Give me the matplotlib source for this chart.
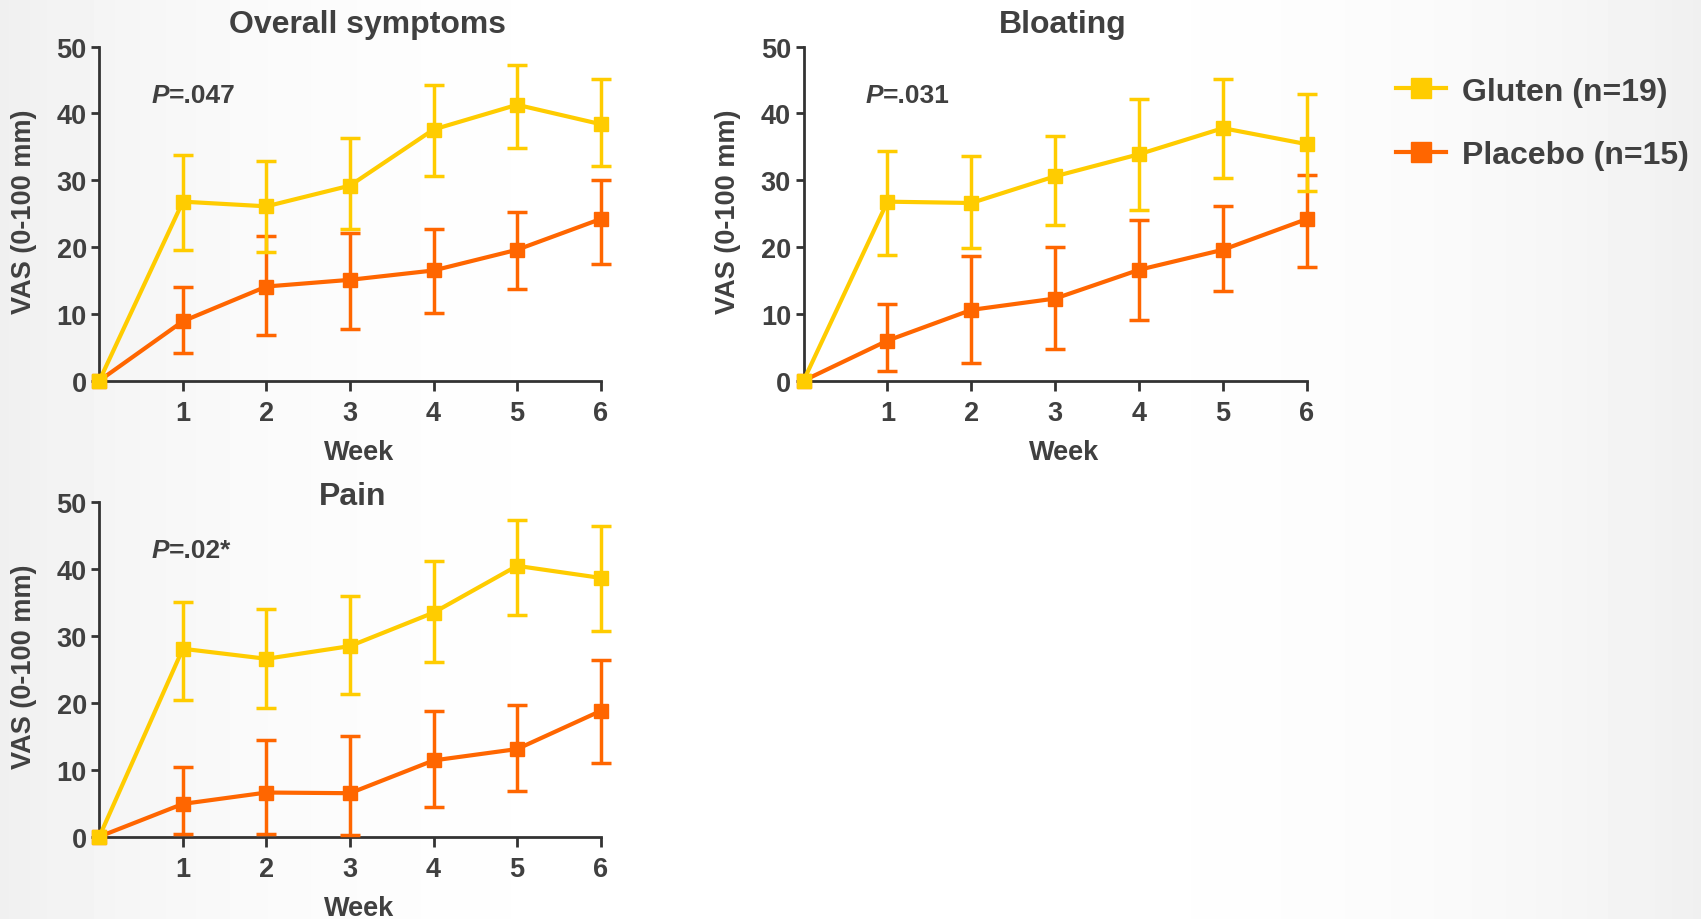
import numpy as np
import matplotlib
matplotlib.use("Agg")
from matplotlib import pyplot as plt
from matplotlib.lines import Line2D

plt.rcParams['font.family'] = ['Liberation Sans', 'DejaVu Sans']
plt.rcParams['font.weight'] = 'bold'

"""Data
"""
weeks = [0, 1, 2, 3, 4, 5, 6]

# overall symptoms
ov_glu = [0, 26.8, 26.1, 29.2, 37.6, 41.3, 38.4]
ov_glu_hi = [0, 33.8, 32.9, 36.3, 44.3, 47.2, 45.1]
ov_glu_lo = [0, 19.6, 19.3, 22.7, 30.6, 34.9, 32.1]
ov_pla = [0, 8.9, 14.1, 15.1, 16.5, 19.6, 24.2]
ov_pla_hi = [0, 14.1, 21.7, 22.1, 22.7, 25.2, 30.1]
ov_pla_lo = [0, 4.1, 6.8, 7.8, 10.1, 13.8, 17.5]

# bloating
bl_glu = [0, 26.8, 26.6, 30.6, 33.9, 37.8, 35.4]
bl_glu_hi = [0, 34.4, 33.7, 36.7, 42.2, 45.2, 42.9]
bl_glu_lo = [0, 18.8, 19.8, 23.3, 25.5, 30.3, 28.4]
bl_pla = [0, 6.0, 10.6, 12.3, 16.6, 19.6, 24.2]
bl_pla_hi = [0, 11.5, 18.6, 20.0, 24.1, 26.2, 30.8]
bl_pla_lo = [0, 1.4, 2.6, 4.7, 9.1, 13.4, 17.0]

# pain
pa_glu = [0, 28.1, 26.6, 28.5, 33.5, 40.5, 38.7]
pa_glu_hi = [0, 35.1, 34.0, 36.0, 41.3, 47.3, 46.4]
pa_glu_lo = [0, 20.4, 19.2, 21.3, 26.1, 33.1, 30.7]
pa_pla = [0, 4.9, 6.6, 6.5, 11.4, 13.1, 18.8]
pa_pla_hi = [0, 10.4, 14.5, 15.0, 18.8, 19.7, 26.4]
pa_pla_lo = [0, 0.4, 0.4, 0.3, 4.5, 6.9, 11.0]

titles = ['Overall symptoms', 'Bloating', 'Pain']
p_values = ['=.047', '=.031', '=.02*']
labels = ['Gluten (n=19)', 'Placebo (n=15)']

GLU = '#FFCC00'
PLA = '#FF6600'
TXT = '#404040'

f = plt.figure(figsize=(17.01, 9.2), dpi=100)

# faint background shading
bg = f.add_axes([0, 0, 1, 1], zorder=-10)
xx = np.linspace(-1, 1, 400)
shade = 1 - 0.06 * np.abs(xx) ** 3
bg.imshow(np.tile(shade, (10, 1)), cmap='gray', vmin=0, vmax=1, aspect='auto',
          extent=[0, 1, 0, 1])
bg.set_axis_off()

panels = [
    ([0.0584, 0.5851, 0.2947, 0.3631], (ov_glu, ov_glu_lo, ov_glu_hi), (ov_pla, ov_pla_lo, ov_pla_hi), 0.534, 1.044, 0.62),
    ([0.4724, 0.5851, 0.2959, 0.3631], (bl_glu, bl_glu_lo, bl_glu_hi), (bl_pla, bl_pla_lo, bl_pla_hi), 0.515, 1.044, 0.74),
    ([0.0584, 0.0895, 0.2947, 0.3634], (pa_glu, pa_glu_lo, pa_glu_hi), (pa_pla, pa_pla_lo, pa_pla_hi), 0.506, 0.995, 0.62),
]

for i, (pos, glu, pla, tx, ty, px) in enumerate(panels):
    ax = f.add_axes(pos)
    ax.patch.set_alpha(0)
    for vals, lo, hi, col, z in [(pla[0], pla[1], pla[2], PLA, 3), (glu[0], glu[1], glu[2], GLU, 4)]:
        v = np.array(vals)
        err = [v - np.array(lo), np.array(hi) - v]
        ax.errorbar(weeks[1:], v[1:], yerr=[err[0][1:], err[1][1:]], fmt='none',
                    ecolor=col, elinewidth=2.5, capsize=7, capthick=2.5,
                    zorder=z, clip_on=False)
        ax.plot(weeks, v, color=col, lw=3, marker='s', ms=10.5, zorder=z + 0.5,
                clip_on=False)
    ax.set_xlim(0, 6)
    ax.set_ylim(0, 50)
    ax.set_xticks([1, 2, 3, 4, 5, 6])
    ax.set_yticks([0, 10, 20, 30, 40, 50])
    for s in ['top', 'right']:
        ax.spines[s].set_visible(False)
    for s in ['left', 'bottom']:
        ax.spines[s].set_linewidth(2)
        ax.spines[s].set_color('#333333')
    ax.tick_params(axis='both', width=2, color='#333333', labelcolor=TXT, labelsize=19.5)
    ax.tick_params(axis='x', length=7, pad=7)
    ax.tick_params(axis='y', length=6, pad=3)
    for lab in ax.get_xticklabels() + ax.get_yticklabels():
        lab.set_fontweight('bold')
    ax.text(tx, ty, titles[i], transform=ax.transAxes, ha='center', va='baseline',
            fontsize=23, fontweight='bold', color=TXT)
    ax.text(0.518, -0.234, 'Week', transform=ax.transAxes, ha='center', va='baseline',
            fontsize=19.5, fontweight='bold', color=TXT)
    ax.text(-0.150, 0.51, 'VAS (0-100 mm)', transform=ax.transAxes, ha='center',
            va='center', rotation=90, fontsize=19.5, fontweight='bold', color=TXT)
    t = ax.text(px, 42.8, 'P', ha='left', va='center', fontsize=19,
                fontweight='bold', style='italic', color=TXT)
    ax.annotate(p_values[i], xy=(1, 0), xycoords=t, ha='left', va='bottom',
                fontsize=19, fontweight='bold', color=TXT)

handles = [Line2D([], [], color=GLU, lw=3, marker='s', ms=14),
           Line2D([], [], color=PLA, lw=3, marker='s', ms=14)]
leg = f.legend(handles, labels, loc='upper left', bbox_to_anchor=(0.8115, 0.933),
               frameon=False, handlelength=1.55, handletextpad=0.5,
               labelspacing=1.05, borderpad=0,
               prop={'family': 'Liberation Sans', 'weight': 'bold', 'size': 23})
for txt in leg.get_texts():
    txt.set_color(TXT)

f.savefig('out.png', dpi=100)
